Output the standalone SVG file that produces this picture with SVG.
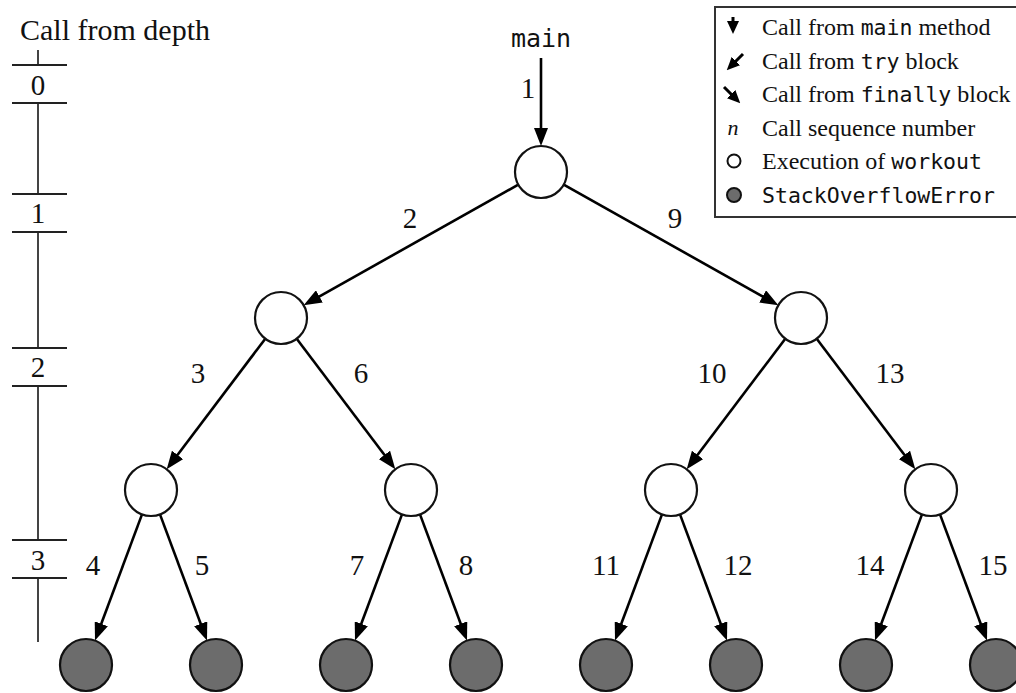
<svg xmlns="http://www.w3.org/2000/svg" width="1016" height="693" viewBox="0 0 1016 693">
<defs>
<style>
.serif{font-family:"Liberation Serif","Times New Roman",serif;fill:#111}
.mono{font-family:"DejaVu Sans Mono","Liberation Mono",monospace;fill:#111}
.lbl{font-size:29px;text-anchor:middle}
.leg{font-size:24px}
.legm{font-size:21.5px}
.node{stroke:#111;stroke-width:2.2}
.open{fill:#fff}
.err{fill:#6c6c6c}
.edge{stroke:#000;stroke-width:2.6;fill:none;marker-end:url(#ah)}
.axis{stroke:#444;stroke-width:2;fill:none}
.tick{stroke:#222;stroke-width:2.2}
.icon{stroke:#000;stroke-width:3;marker-end:url(#sm)}
</style>
<marker id="ah" viewBox="0 0 18 14" markerWidth="18" markerHeight="14" refX="12" refY="7" orient="auto" markerUnits="userSpaceOnUse">
<path d="M0,0 L18,7 L0,14 z" fill="#000"/>
</marker>
<marker id="sm" viewBox="0 0 13 12" markerWidth="13" markerHeight="12" refX="7" refY="6" orient="auto" markerUnits="userSpaceOnUse">
<path d="M0,0 L13,6 L0,12 z" fill="#000"/>
</marker>
</defs>

<g id="depth-axis">
<text class="serif" x="20" y="40" font-size="30">Call from depth</text>
<path class="axis" d="M38,50 V65 M38,103 V194 M38,232 V348 M38,386 V540 M38,578 V642"/>
<path class="tick" d="M12,65 H67 M12,103 H67 M12,194 H67 M12,232 H67 M12,348 H67 M12,386 H67 M12,540 H67 M12,578 H67"/>
<text class="serif lbl" x="38" y="95">0</text>
<text class="serif lbl" x="38" y="223">1</text>
<text class="serif lbl" x="38" y="377">2</text>
<text class="serif lbl" x="38" y="570">3</text>
</g>

<g id="legend">
<rect x="715" y="7" width="320" height="210" fill="#fff" stroke="#333" stroke-width="2"/>
<line class="icon" x1="733" y1="17" x2="733" y2="28"/>
<line class="icon" x1="743" y1="54" x2="731" y2="66"/>
<line class="icon" x1="724" y1="87" x2="736" y2="99"/>
<text class="serif" x="733" y="135" font-size="22" font-style="italic" text-anchor="middle">n</text>
<circle cx="734" cy="161" r="6.5" fill="#fff" stroke="#111" stroke-width="2"/>
<circle cx="734" cy="195" r="7" fill="#6c6c6c" stroke="#111" stroke-width="2"/>
<text class="serif leg" x="762" y="35">Call from <tspan class="mono legm">main</tspan> method</text>
<text class="serif leg" x="762" y="68.5">Call from <tspan class="mono legm">try</tspan> block</text>
<text class="serif leg" x="762" y="102">Call from <tspan class="mono legm">finally</tspan> block</text>
<text class="serif leg" x="762" y="135.5">Call sequence number</text>
<text class="serif leg" x="762" y="169">Execution of <tspan class="mono legm">workout</tspan></text>
<text class="mono legm" x="762" y="202.5">StackOverflowError</text>
</g>

<g id="connectors">
<line class="edge" x1="541" y1="58" x2="541" y2="140"/>
<line class="edge" x1="518.3" y1="184.7" x2="308.9" y2="302.3"/>
<line class="edge" x1="563.7" y1="184.7" x2="773.1" y2="302.3"/>
<line class="edge" x1="265.3" y1="338.7" x2="170.3" y2="464.5"/>
<line class="edge" x1="296.7" y1="338.7" x2="391.7" y2="464.5"/>
<line class="edge" x1="785.3" y1="338.7" x2="690.3" y2="464.5"/>
<line class="edge" x1="816.7" y1="338.7" x2="911.7" y2="464.5"/>
<line class="edge" x1="142" y1="514.4" x2="97.1" y2="635"/>
<line class="edge" x1="160" y1="514.4" x2="204.9" y2="635"/>
<line class="edge" x1="402" y1="514.4" x2="357.1" y2="635"/>
<line class="edge" x1="420" y1="514.4" x2="464.9" y2="635"/>
<line class="edge" x1="662" y1="514.4" x2="617.1" y2="635"/>
<line class="edge" x1="680" y1="514.4" x2="724.9" y2="635"/>
<line class="edge" x1="922" y1="514.4" x2="877.1" y2="635"/>
<line class="edge" x1="940" y1="514.4" x2="984.9" y2="635"/>
</g>

<g id="edge-labels">
<text class="mono" x="541" y="47" font-size="25" text-anchor="middle">main</text>
<text class="serif lbl" x="528" y="98">1</text>
<text class="serif lbl" x="410" y="228">2</text>
<text class="serif lbl" x="675" y="228">9</text>
<text class="serif lbl" x="198" y="383">3</text>
<text class="serif lbl" x="361" y="383">6</text>
<text class="serif lbl" x="712" y="383">10</text>
<text class="serif lbl" x="890" y="383">13</text>
<text class="serif lbl" x="93" y="575">4</text>
<text class="serif lbl" x="202" y="575">5</text>
<text class="serif lbl" x="357" y="575">7</text>
<text class="serif lbl" x="466" y="575">8</text>
<text class="serif lbl" x="606" y="575">11</text>
<text class="serif lbl" x="738" y="575">12</text>
<text class="serif lbl" x="870" y="575">14</text>
<text class="serif lbl" x="993" y="575">15</text>
</g>

<g id="n-root"><circle class="node open" cx="541" cy="172" r="26"/></g>
<g id="n-a"><circle class="node open" cx="281" cy="318" r="26"/></g>
<g id="n-b"><circle class="node open" cx="801" cy="318" r="26"/></g>
<g id="n-c"><circle class="node open" cx="151" cy="490" r="26"/></g>
<g id="n-d"><circle class="node open" cx="411" cy="490" r="26"/></g>
<g id="n-e"><circle class="node open" cx="671" cy="490" r="26"/></g>
<g id="n-f"><circle class="node open" cx="931" cy="490" r="26"/></g>
<g id="leaf-1"><circle class="node err" cx="86" cy="665" r="26"/></g>
<g id="leaf-2"><circle class="node err" cx="216" cy="665" r="26"/></g>
<g id="leaf-3"><circle class="node err" cx="346" cy="665" r="26"/></g>
<g id="leaf-4"><circle class="node err" cx="476" cy="665" r="26"/></g>
<g id="leaf-5"><circle class="node err" cx="606" cy="665" r="26"/></g>
<g id="leaf-6"><circle class="node err" cx="736" cy="665" r="26"/></g>
<g id="leaf-7"><circle class="node err" cx="866" cy="665" r="26"/></g>
<g id="leaf-8"><circle class="node err" cx="996" cy="665" r="26"/></g>
</svg>
